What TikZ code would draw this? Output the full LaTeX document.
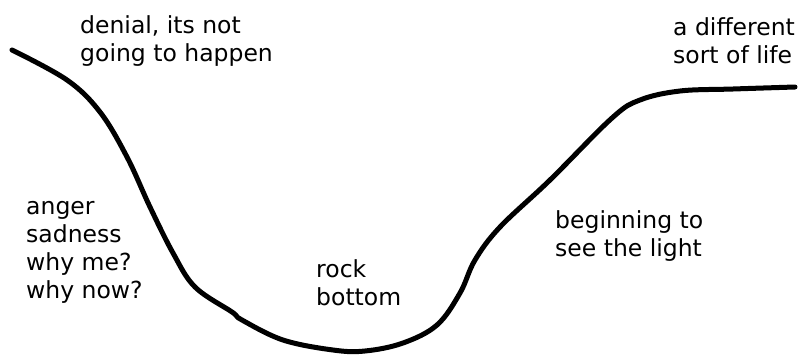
\documentclass[tikz,border=0pt]{standalone}
\usepackage{fontspec}
\setmainfont{DejaVu Sans}
\begin{document}
\begin{tikzpicture}[x=1pt,y=-1pt,
  lbl/.style={anchor=base west,inner sep=0pt,align=left,font=\fontsize{23.5}{28}\selectfont},
  curve/.style={line width=5pt,line cap=round,line join=round}]
\useasboundingbox (0,0) rectangle (802,354);
\draw[curve] plot[smooth,tension=0.6] coordinates {
 (12,50) (67,80) (100,112) (127,157) (150,207) (173,253) (195,287)
 (232,312) (242,320) (283,340) (333,350) (365,351) (403,343) (437,325)
 (460,293) (475,260) (500,227) (550,180) (612,118) (640,100) (680,91)
 (733,89) (795,87)};
\node[lbl] (denial) at (80,61) {denial, its not\\going to happen};
\node[lbl] (anger) at (26,298) {anger\\sadness\\why me?\\why now?};
\node[lbl] (rock) at (316,305) {rock\\bottom};
\node[lbl] (begin) at (555,256) {beginning to\\see the light};
\node[lbl] (life) at (673,63) {a different\\sort of life};
\end{tikzpicture}
\end{document}
